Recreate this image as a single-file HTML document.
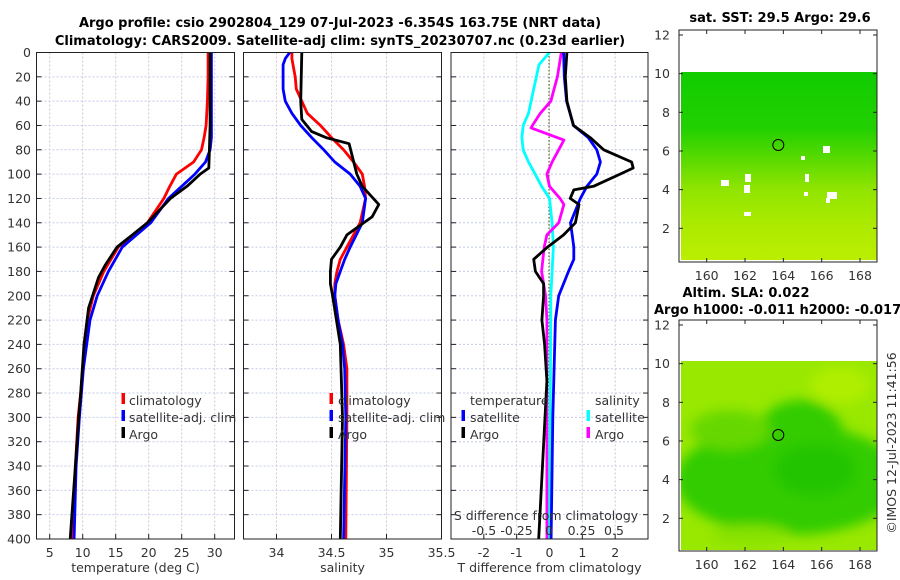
<!DOCTYPE html>
<html><head><meta charset="utf-8"><style>
html,body{margin:0;padding:0;background:#fff;}
svg{display:block;font-family:"DejaVu Sans","Liberation Sans",sans-serif;}
.tk{font-size:12.5px;fill:#333;}
.tt{font-size:13px;font-weight:bold;fill:#000;}
</style></head><body>
<svg id="fig" width="900" height="580" viewBox="0 0 900 580">
<defs>
<linearGradient id="sstg" x1="0" y1="0" x2="0" y2="1">
<stop offset="0" stop-color="#10cc00"/><stop offset="0.3" stop-color="#22d000"/><stop offset="0.45" stop-color="#55d900"/><stop offset="0.62" stop-color="#8fe400"/><stop offset="0.8" stop-color="#aaea00"/><stop offset="1" stop-color="#bbee00"/>
</linearGradient>
<radialGradient id="slag" cx="0.55" cy="0.6" r="0.6">
<stop offset="0" stop-color="#22c800"/><stop offset="0.55" stop-color="#33d000"/><stop offset="0.8" stop-color="#66dc00"/><stop offset="1" stop-color="#99e800"/>
</radialGradient>
<filter id="bl"><feGaussianBlur stdDeviation="6"/></filter>
<clipPath id="c1"><rect x="681" y="72" width="196" height="188"/></clipPath>
<clipPath id="c2"><rect x="681" y="361" width="196" height="189"/></clipPath>
<clipPath id="p1"><rect x="36.5" y="52" width="198" height="487"/></clipPath>
<clipPath id="p2"><rect x="243.5" y="52" width="198" height="487"/></clipPath>
<clipPath id="p3"><rect x="451" y="52" width="197" height="487"/></clipPath>
</defs>
<text class="tt" x="340" y="27" text-anchor="middle">Argo profile: csio 2902804_129 07-Jul-2023 -6.354S 163.75E (NRT data)</text>
<text class="tt" x="340" y="45" text-anchor="middle">Climatology: CARS2009. Satellite-adj clim: synTS_20230707.nc (0.23d earlier)</text>
<g id="panels"></g>

<!-- map 1 -->
<text class="tt" x="780" y="22" text-anchor="middle">sat. SST: 29.5 Argo: 29.6</text>
<g>
<rect x="679" y="30" width="198" height="232" fill="#fff"/>
<rect x="681" y="72" width="196" height="188" fill="url(#sstg)"/>
<g clip-path="url(#c1)" fill="#fff">
<rect x="823" y="146" width="7" height="7"/><rect x="801" y="156" width="4" height="4"/><rect x="745" y="174" width="6" height="8"/><rect x="721" y="180" width="8" height="6"/><rect x="744" y="185" width="6" height="8"/><rect x="827" y="192" width="10" height="7"/><rect x="826" y="198" width="4" height="5"/><rect x="805" y="174" width="4" height="8"/><rect x="744" y="212" width="7" height="4"/><rect x="804" y="192" width="4" height="4"/>
</g>
<circle cx="778.3" cy="145" r="5.5" fill="none" stroke="#000" stroke-width="1"/>
<rect x="679" y="30" width="198" height="232" fill="none" stroke="#222" stroke-width="1"/>
</g>
<g id="map1ax"></g>

<!-- map 2 -->
<text class="tt" x="746" y="297" text-anchor="middle">Altim. SLA: 0.022</text>
<text class="tt" x="654" y="314">Argo h1000: -0.011 h2000: -0.017</text>
<g>
<rect x="679" y="320" width="198" height="231" fill="#fff"/>
<g clip-path="url(#c2)">
<rect x="681" y="361" width="196" height="189" fill="#99e800"/>
<g filter="url(#bl)">
<ellipse cx="790" cy="480" rx="115" ry="55" fill="#33cc00"/>
<ellipse cx="800" cy="440" rx="45" ry="40" fill="#33cc00"/>
<ellipse cx="815" cy="470" rx="40" ry="25" fill="#22c400"/>
<ellipse cx="730" cy="430" rx="40" ry="20" fill="#66d800"/>
<ellipse cx="840" cy="385" rx="30" ry="18" fill="#b0ee00"/>
<ellipse cx="750" cy="535" rx="40" ry="10" fill="#88e200"/>
</g>
</g>
<circle cx="778.3" cy="435" r="5.5" fill="none" stroke="#000" stroke-width="1"/>
<rect x="679" y="320" width="198" height="231" fill="none" stroke="#222" stroke-width="1"/>
</g>
<g id="map2ax"></g>
<text class="tk" transform="translate(896,443) rotate(-90)" text-anchor="middle">©IMOS 12-Jul-2023 11:41:56</text>
</svg>
<script>
// Panel 1: temperature
const depthClimT = [0,20,40,60,70,80,90,100,110,120,140,160,180,200,220,240,260,280,300,340,400];
const climTemp = [29.0,29.0,28.9,28.7,28.4,28.0,26.8,24.2,23.2,22.3,19.8,15.4,13.2,11.6,10.7,10.3,10.0,9.7,9.3,8.9,8.5];
const satTemp = [29.5,29.5,29.5,29.5,29.5,29.3,28.6,27.0,25.0,23.0,20.3,16.0,13.9,12.2,11.1,10.6,10.1,9.8,9.5,9.0,8.7];
const depthArgoT = [0,20,40,60,80,95,100,110,120,140,160,175,185,210,240,280,300,340,400];
const argoTemp = [29.3,29.3,29.3,29.3,29.2,29.1,27.8,25.8,23.3,19.8,15.2,13.4,12.4,10.9,10.2,9.7,9.4,8.9,8.1];
const tempTicks = [5,10,15,20,25,30];
// Panel 2: salinity
const depthClimS = [0,5,10,20,30,40,50,60,70,80,90,100,110,120,140,160,170,180,190,200,220,240,260,300,400];
const climSal = [34.14,34.14,34.15,34.17,34.18,34.23,34.28,34.40,34.50,34.61,34.70,34.78,34.80,34.81,34.76,34.64,34.58,34.55,34.53,34.53,34.56,34.61,34.64,34.64,34.63];
const satSal = [34.12,34.08,34.06,34.06,34.06,34.08,34.14,34.22,34.32,34.43,34.53,34.67,34.76,34.81,34.78,34.67,34.62,34.58,34.54,34.53,34.56,34.60,34.62,34.63,34.61];
const depthArgoS = [0,40,55,65,70,75,100,110,120,125,135,150,160,170,180,190,200,240,300,400];
const argoSal = [34.23,34.22,34.23,34.32,34.45,34.66,34.73,34.78,34.88,34.93,34.87,34.64,34.58,34.50,34.49,34.49,34.51,34.58,34.60,34.58];
const salTicks = [34,34.5,35,35.5];
// Panel 3: differences
const depthSatDT = [0,20,40,60,70,80,90,100,110,120,130,140,150,160,170,180,190,200,220,300,400];
const satDT = [0.43,0.45,0.52,0.73,1.18,1.44,1.55,1.44,1.14,0.94,0.79,0.64,0.69,0.74,0.74,0.58,0.43,0.28,0.18,0.10,0.05];
const depthArgoDT = [0,20,40,60,70,80,90,95,100,110,113,120,125,140,150,160,170,180,190,200,220,240,270,400];
const argoDT = [0.53,0.48,0.53,0.73,1.24,1.65,2.5,2.55,2.15,1.34,0.74,0.63,0.9,0.79,0.43,-0.06,-0.48,-0.43,-0.18,-0.18,-0.23,-0.15,-0.08,-0.33];
const depthSatDS = [0,10,30,50,60,70,80,90,100,110,120,140,160,180,200,400];
const satDS = [0,-0.08,-0.12,-0.16,-0.2,-0.21,-0.2,-0.16,-0.11,-0.06,0,0.02,0.03,0.02,0.01,0];
const depthArgoDS = [0,20,40,50,60,62,72,80,90,100,110,120,125,140,150,160,180,200,220,400];
const argoDS = [0.09,0.06,0.01,-0.07,-0.13,-0.14,0.11,0.07,0.02,-0.02,0,0.08,0.11,0.07,-0.02,-0.04,-0.06,-0.03,-0.02,-0.02];
const dTTicks = [-2,-1,0,1,2];
const dSTicks = [-0.5,-0.25,0,0.25,0.5];
const dSTickLabels = ['-0.5','-0.25','0','0.25','0.5'];
const depthTicks = [0,20,40,60,80,100,120,140,160,180,200,220,240,260,280,300,320,340,360,380,400];
const latTicks = [2,4,6,8,10,12];
const lonTicks = [160,162,164,166,168];

const NS='http://www.w3.org/2000/svg';
const fig=document.getElementById('fig');
const Y0=52.5, Y1=539;
const yD = d => Y0 + (d/400)*(Y1-Y0);
function el(tag, attrs, parent){const e=document.createElementNS(NS,tag);for(const k in attrs)e.setAttribute(k,attrs[k]);(parent||fig).appendChild(e);return e;}
function txt(x,y,s,anchor,parent,cls){const t=el('text',{x:x,y:y,'text-anchor':anchor||'middle','class':cls||'tk'},parent);t.textContent=s;return t;}
function lin(d0,d1,r0,r1){return v=>r0+(v-d0)/(d1-d0)*(r1-r0);}

const panels=[
 {x0:36.5,x1:234.5,sx:lin(3,33,36.5,234.5),ticks:tempTicks,lab:tempTicks.map(String),xl:'temperature (deg C)',name:'temperature-panel',clip:'p1'},
 {x0:243.5,x1:441.5,sx:lin(33.7,35.5,243.5,441.5),ticks:salTicks,lab:['34','34.5','35','35.5'],xl:'salinity',name:'salinity-panel',clip:'p2'},
 {x0:451,x1:648,sx:lin(-3,3,451,648),ticks:dTTicks,lab:dTTicks.map(String),xl:'T difference from climatology',name:'difference-panel',clip:'p3'}
];
const sxS = lin(-0.75,0.75,451,648);
const root=document.getElementById('panels');
panels.forEach((p,i)=>{
 const g=el('g',{},root);
 
 
 // grid
 depthTicks.forEach(d=>{const l=el('line',{x1:p.x0,x2:p.x1,y1:yD(d),y2:yD(d),stroke:'#c4cbec','stroke-width':1,'stroke-dasharray':'2,2'},g);
  
  });
 p.ticks.forEach(v=>{const x=p.sx(v);const l=el('line',{x1:x,x2:x,y1:Y0,y2:Y1,stroke:'#d8c4d0','stroke-width':1,'stroke-dasharray':'2,2'},g);
  
  });
 if(i===2){p.ticks.forEach(v=>{});}
 // ticks
 depthTicks.forEach(d=>{el('line',{x1:p.x0,x2:p.x0+5,y1:yD(d),y2:yD(d),stroke:'#222'},g);el('line',{x1:p.x1,x2:p.x1-5,y1:yD(d),y2:yD(d),stroke:'#222'},g);});
 p.ticks.forEach((v,k)=>{const x=p.sx(v);el('line',{x1:x,x2:x,y1:Y1,y2:Y1-5,stroke:'#222'},g);
  const t=txt(x,557,p.lab[k],'middle',g);
  
  });
 const xt=txt((p.x0+p.x1)/2,572,p.xl,'middle',g);
 
 
});
// y tick labels
depthTicks.forEach(d=>{const t=txt(31,yD(d)+4.5,String(d),'end',root);
 
 });
// zero dotted line in panel 3
const zl=el('line',{x1:549,x2:549,y1:Y0,y2:Y1,stroke:'#556b2f','stroke-width':1.2,'stroke-dasharray':'1.5,2'},root);



function series(depths,vals,sx,color,clip,name){
 const pts=depths.map((d,k)=>sx(vals[k]).toFixed(1)+','+yD(d).toFixed(1)).join(' ');
 const pl=el('polyline',{points:pts,fill:'none',stroke:color,'stroke-width':2.8,'stroke-linejoin':'round','clip-path':'url(#'+clip+')'},root);
 
 
}
series(depthClimT,climTemp,panels[0].sx,'#ff0000','p1','clim-temperature-line');
series(depthClimT,satTemp,panels[0].sx,'#0000ff','p1','satellite-temperature-line');
series(depthArgoT,argoTemp,panels[0].sx,'#000000','p1','argo-temperature-line');
series(depthClimS,climSal,panels[1].sx,'#ff0000','p2','clim-salinity-line');
series(depthClimS,satSal,panels[1].sx,'#0000ff','p2','satellite-salinity-line');
series(depthArgoS,argoSal,panels[1].sx,'#000000','p2','argo-salinity-line');
series(depthSatDS,satDS,sxS,'#00ffff','p3','satellite-salinity-diff-line');
series(depthArgoDS,argoDS,sxS,'#ff00ff','p3','argo-salinity-diff-line');
series(depthSatDT,satDT,panels[2].sx,'#0000ff','p3','satellite-temperature-diff-line');
series(depthArgoDT,argoDT,panels[2].sx,'#000000','p3','argo-temperature-diff-line');

// frames
panels.forEach(p=>{el('rect',{x:p.x0,y:Y0,width:p.x1-p.x0,height:Y1-Y0,fill:'none',stroke:'#222','stroke-width':1},root);});

// legends
function legItem(mx,tx,y,color,label,name){
 const r=el('rect',{x:mx-1.5,y:y-12,width:3.5,height:11,fill:color},root);
 
 
 const t=txt(tx,y,label,'start',root);
 
 
}
legItem(123,129,405,'#ff0000','climatology','legend-climatology-t');
legItem(123,129,422,'#0000ff','satellite-adj. clim','legend-satellite-t');
legItem(123,129,439,'#000000','Argo','legend-argo-t');
legItem(331,338,405,'#ff0000','climatology','legend-climatology-s');
legItem(331,338,422,'#0000ff','satellite-adj. clim','legend-satellite-s');
legItem(331,338,439,'#000000','Argo','legend-argo-s');
const lt=txt(470,405,'temperature','start',root);


const ls=txt(595,405,'salinity','start',root);


legItem(463,470,422,'#0000ff','satellite','legend-satellite-dt');
legItem(463,470,439,'#000000','Argo','legend-argo-dt');
legItem(588,595,422,'#00ffff','satellite','legend-satellite-ds');
legItem(588,595,439,'#ff00ff','Argo','legend-argo-ds');
// S axis inside panel 3
const st=txt(546,520,'S difference from climatology','middle',root);


dSTicks.forEach((v,k)=>{const t=txt(lin(-0.5,0.5,484,614)(v),535,dSTickLabels[k],'middle',root);
 
 });

// map axes
function mapAxes(gid,top,bot,lat12y){
 const g=document.getElementById(gid);
 const sy=lin(2,12,lat12y+5*19.33*2/2*2,lat12y); // 2 deg -> 38.66px
 const sxm=lin(160,168,706.7,860);
 latTicks.forEach(v=>{const y=lat12y+(12-v)*19.33;
  el('line',{x1:679,x2:683,y1:y,y2:y,stroke:'#222'},g);el('line',{x1:877,x2:873,y1:y,y2:y,stroke:'#222'},g);
  const t=txt(670,y+4.5,String(v),'end',g);
  
  });
 lonTicks.forEach(v=>{const x=sxm(v);
  el('line',{x1:x,x2:x,y1:bot,y2:bot-4,stroke:'#222'},g);el('line',{x1:x,x2:x,y1:top,y2:top+4,stroke:'#222'},g);
  const t=txt(x,bot+18,String(v),'middle',g);
  
  });
}
mapAxes('map1ax',30,262,35);
mapAxes('map2ax',320,551,325);
</script>
</body></html>
